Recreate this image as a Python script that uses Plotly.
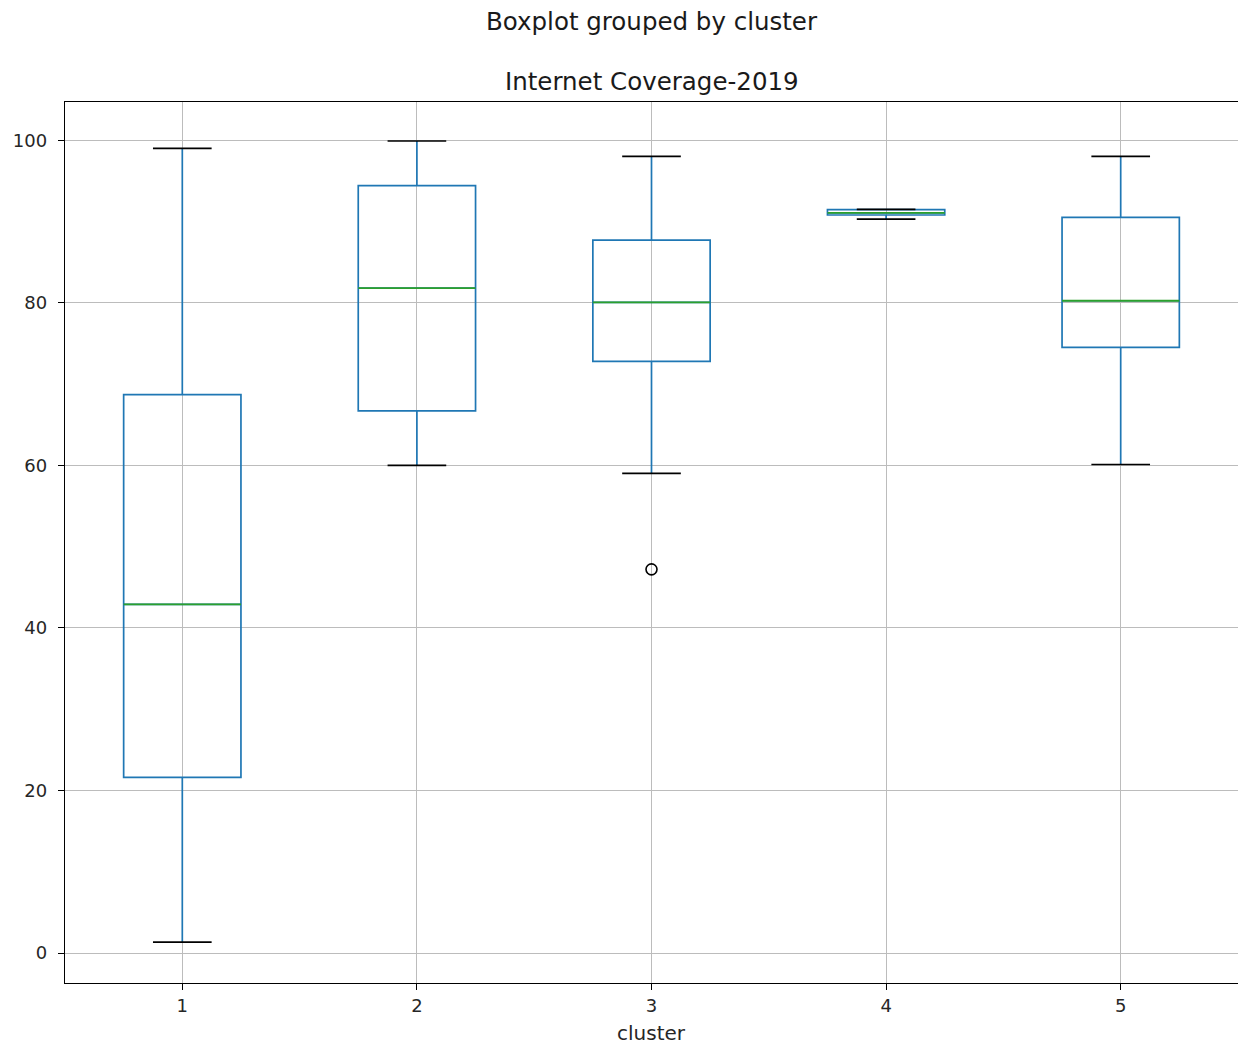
import plotly.graph_objects as go

# ---- data ----
clusters = [1, 2, 3, 4, 5]
lower_whisker = [1.35, 60.0, 59.0, 90.3, 60.1]
q1 = [21.6, 66.7, 72.8, 90.8, 74.5]
median = [42.9, 81.8, 80.05, 91.05, 80.25]
q3 = [68.7, 94.4, 87.7, 91.45, 90.5]
upper_whisker = [99.0, 99.9, 98.0, 91.5, 98.0]
outlier_cluster = [3]
outlier_value = [47.2]
y_ticks = [0, 20, 40, 60, 80, 100]

BOX_W = 0.5
CAP_W = 0.25
BLUE = "#1f77b4"
GREEN = "#2ca02c"
FONT = "DejaVu Sans"

fig = go.Figure()

fig.add_trace(go.Box(
    x=clusters, q1=q1, median=median, q3=q3,
    lowerfence=lower_whisker, upperfence=upper_whisker,
    width=BOX_W, whiskerwidth=0,
    line=dict(color=BLUE, width=1.7),
    fillcolor="rgba(0,0,0,0)",
    boxpoints=False, showlegend=False, hoverinfo="skip",
))

# caps
cx, cy = [], []
for c, lo, hi in zip(clusters, lower_whisker, upper_whisker):
    cx += [c - CAP_W / 2, c + CAP_W / 2, None, c - CAP_W / 2, c + CAP_W / 2, None]
    cy += [lo, lo, None, hi, hi, None]
fig.add_trace(go.Scatter(x=cx, y=cy, mode="lines",
                         line=dict(color="black", width=1.7),
                         showlegend=False, hoverinfo="skip"))

# medians
mx, my = [], []
for c, m in zip(clusters, median):
    mx += [c - BOX_W / 2, c + BOX_W / 2, None]
    my += [m, m, None]
fig.add_trace(go.Scatter(x=mx, y=my, mode="lines",
                         line=dict(color=GREEN, width=1.8),
                         showlegend=False, hoverinfo="skip"))

# outliers
fig.add_trace(go.Scatter(x=outlier_cluster, y=outlier_value, mode="markers",
                         marker=dict(symbol="circle-open", size=11,
                                     color="black", line=dict(width=1.6)),
                         showlegend=False, hoverinfo="skip"))

fig.update_layout(
    width=1238, height=1046,
    margin=dict(l=65, r=0, t=102, b=63),
    plot_bgcolor="white", paper_bgcolor="white",
    font=dict(family=FONT, size=18, color="#262626"),
    xaxis=dict(
        range=[0.5, 5.5], tickmode="array", tickvals=clusters,
        ticktext=[str(c) for c in clusters],
        showgrid=True, gridcolor="#bcbcbc", gridwidth=1.3,
        showline=True, linecolor="black", linewidth=1.4, mirror=True,
        ticks="outside", ticklen=6, tickcolor="black", tickwidth=1.3,
        zeroline=False,
    ),
    yaxis=dict(
        range=[-3.69, 104.7], tickmode="array", tickvals=y_ticks,
        showgrid=True, gridcolor="#bcbcbc", gridwidth=1.3,
        showline=True, linecolor="black", linewidth=1.4, mirror=False,
        ticks="outside", ticklen=6, tickcolor="black", tickwidth=1.3,
        ticklabelstandoff=7,
        zeroline=False,
    ),
    annotations=[
        dict(text="Boxplot grouped by cluster", xref="paper", yref="paper",
             x=0.5, y=1, yshift=81, xanchor="center", yanchor="middle",
             showarrow=False, font=dict(family=FONT, size=24.5, color="#1a1a1a")),
        dict(text="Internet Coverage-2019", xref="paper", yref="paper",
             x=0.5, y=1, yshift=21, xanchor="center", yanchor="middle",
             showarrow=False, font=dict(family=FONT, size=24.5, color="#1a1a1a")),
        dict(text="cluster", xref="paper", yref="paper",
             x=0.5, y=0, yshift=-50, xanchor="center", yanchor="middle",
             showarrow=False, font=dict(family=FONT, size=20, color="#262626")),
    ],
)

fig.write_html("out.html")
